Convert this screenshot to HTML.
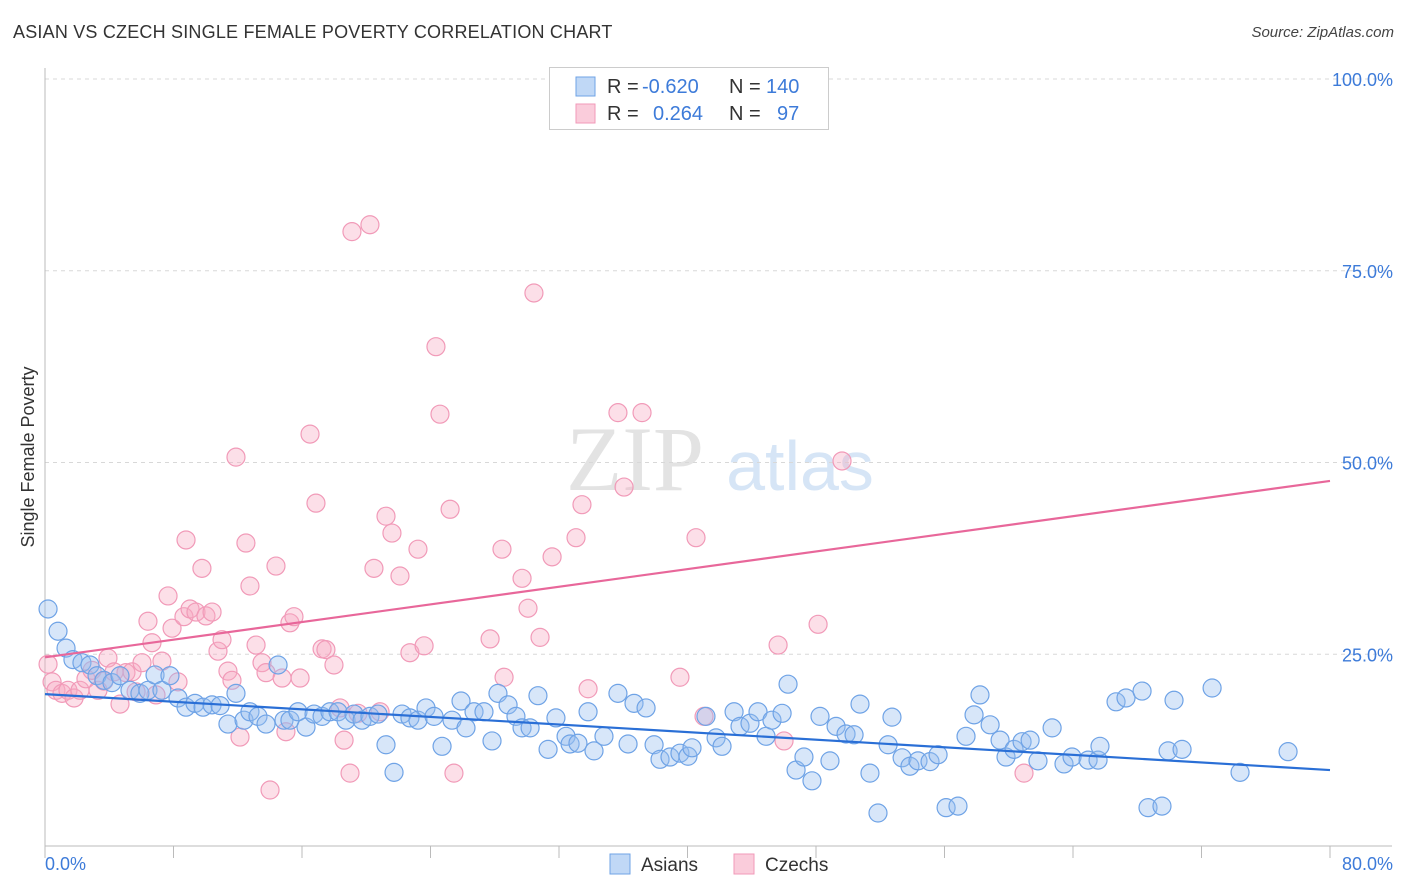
<!DOCTYPE html>
<html><head><meta charset="utf-8">
<style>
body{margin:0;background:#fff;font-family:"Liberation Sans",sans-serif;}
#wrap{position:relative;width:1406px;height:892px;overflow:hidden;}
.t{position:absolute;white-space:nowrap;}
</style></head><body>
<div id="wrap">
<div class="t" style="left:13px;top:22px;font-size:18px;color:#333;letter-spacing:0.2px">ASIAN VS CZECH SINGLE FEMALE POVERTY CORRELATION CHART</div>
<div class="t" style="right:12px;top:24px;font-size:15px;color:#444;font-style:italic">Source: ZipAtlas.com</div>
<svg id="svg" width="1406" height="892" style="position:absolute;left:0;top:0"></svg>
</div>
<script>
const asianX=[0.19,0.81,1.31,1.74,2.30,2.80,3.24,3.67,4.17,4.67,5.29,5.91,6.41,6.85,7.28,7.78,8.28,8.78,9.34,9.84,10.40,10.90,11.39,11.89,12.39,12.76,13.26,13.76,14.51,14.88,15.25,15.75,16.25,16.75,17.25,17.74,18.24,18.74,19.24,19.74,20.23,20.73,21.23,21.73,22.23,22.72,23.22,23.72,24.22,24.72,25.34,25.90,26.21,26.71,27.33,27.83,28.20,28.83,29.32,29.70,30.20,30.69,31.32,31.81,32.44,32.69,33.18,33.81,34.18,34.80,35.67,36.30,36.67,37.42,37.92,38.29,38.91,39.53,40.03,40.28,41.15,41.78,42.15,42.90,43.27,43.89,44.39,44.89,45.26,45.89,46.26,46.76,47.25,47.75,48.25,48.87,49.25,49.87,50.37,50.74,51.36,51.86,52.49,52.73,53.36,53.85,54.35,55.10,55.60,56.10,56.84,57.34,57.84,58.21,58.84,59.46,59.83,60.33,60.83,61.33,61.82,62.70,63.44,63.94,64.94,65.56,65.68,66.68,67.30,68.30,68.67,69.54,69.92,70.29,70.79,72.66,74.40,77.39];
const asianY=[30.9,28.0,25.8,24.3,23.9,23.6,22.2,21.6,21.3,22.2,20.3,19.9,20.3,22.3,20.3,22.2,19.3,18.1,18.6,18.1,18.4,18.3,15.9,19.9,16.4,17.5,16.9,15.9,23.6,16.4,16.4,17.5,15.5,17.2,16.9,17.5,17.5,16.4,17.2,16.4,16.9,17.2,13.2,9.6,17.2,16.7,16.4,18.0,16.9,13.0,16.4,18.9,15.4,17.5,17.5,13.7,19.9,18.4,16.9,15.4,15.4,19.6,12.6,16.7,14.3,13.3,13.4,17.5,12.4,14.3,19.9,13.3,18.6,18.0,13.2,11.3,11.6,12.1,11.7,12.8,16.9,14.1,13.0,17.5,15.6,16.0,17.5,14.3,16.4,17.3,21.1,9.9,11.6,8.5,16.9,11.1,15.6,14.6,14.5,18.5,9.5,4.3,13.2,16.8,11.5,10.4,11.1,11.0,11.9,5.0,5.2,14.3,17.1,19.7,15.8,13.8,11.6,12.6,13.6,13.8,11.1,15.4,10.7,11.6,11.2,11.2,13.0,18.8,19.3,20.2,5.0,5.2,12.4,19.0,12.6,20.6,9.6,12.3];
const czechX=[0.19,0.44,0.68,1.06,1.43,1.81,2.18,2.55,2.93,3.30,3.67,3.92,4.30,4.67,5.04,5.42,5.67,6.04,6.41,6.66,6.91,7.28,7.66,7.91,8.28,8.65,8.78,9.03,9.40,9.77,10.02,10.40,10.77,11.02,11.39,11.64,11.89,12.14,12.51,12.76,13.14,13.51,13.76,14.01,14.38,14.76,15.00,15.25,15.50,15.88,16.50,16.87,17.25,17.49,17.99,18.37,18.62,18.99,19.11,19.49,20.23,20.48,20.86,21.23,21.60,22.10,22.72,23.22,23.60,24.34,24.59,25.22,25.46,27.71,28.45,28.58,29.70,30.07,30.44,30.82,31.57,33.06,33.43,33.81,35.67,36.05,37.17,39.53,40.53,41.03,45.64,46.01,48.13,49.62,60.95];
const czechY=[23.7,21.4,20.3,19.9,20.3,19.3,20.3,21.8,22.9,20.3,21.5,24.5,22.7,18.5,22.6,22.7,20.1,23.9,29.3,26.5,19.7,24.1,32.6,28.4,21.4,29.9,39.9,30.9,30.5,36.2,30.0,30.5,25.4,26.9,22.8,21.6,50.7,14.2,39.5,33.9,26.2,23.9,22.6,7.3,36.5,21.9,14.9,29.1,29.9,21.9,53.7,44.7,25.7,25.6,23.6,18.0,13.8,9.5,80.1,17.3,81.0,36.2,17.5,43.0,40.8,35.2,25.2,38.7,26.1,65.1,56.3,43.9,9.5,27.0,38.7,22.0,34.9,31.0,72.1,27.2,37.7,40.2,44.5,20.5,56.5,46.8,56.5,22.0,40.2,16.9,26.2,13.7,28.9,50.2,9.5];
const asianTrend=[19.8,9.9];
const czechTrend=[24.6,47.6];
const xTickLabels=["0.0%","80.0%"];
const yTicks=[25,50,75,100];
const yTickLabels=["25.0%","50.0%","75.0%","100.0%"];

const X0=45,X1=1330,Y0=846,Y100=79;
const sx=v=>X0+(v/80)*(X1-X0);
const sy=v=>Y0-(v/100)*(Y0-Y100);
const svg=document.getElementById('svg');
const NS='http://www.w3.org/2000/svg';
function mk(tag,attrs,parent){const e=document.createElementNS(NS,tag);for(const k in attrs)e.setAttribute(k,attrs[k]);(parent||svg).appendChild(e);return e;}

let wm=mk('text',{x:635,y:490,'font-size':92,'font-family':'Liberation Serif,serif',fill:'#e3e3e3','text-anchor':'middle'});
wm.textContent='ZIP';


let wm2=mk('text',{x:800,y:490,'font-size':70,'font-family':'Liberation Sans,sans-serif',fill:'#d6e5f6','text-anchor':'middle'});
wm2.textContent='atlas';



yTicks.forEach((t,i)=>{
  const g=mk('line',{x1:X0,x2:1392,y1:sy(t),y2:sy(t),stroke:'#d8d8d8','stroke-dasharray':'4,4','stroke-width':1});
  
  
  const l=mk('text',{x:1393,y:sy(t)+7,'font-size':18,fill:'#3d7bd9','text-anchor':'end','font-family':'Liberation Sans,sans-serif'});
  l.textContent=yTickLabels[i];
  
  
});
let ya=mk('line',{x1:X0,x2:X0,y1:68,y2:Y0,stroke:'#bbb'});


let xa=mk('line',{x1:X0,x2:1392,y1:Y0,y2:Y0,stroke:'#bbb'});


for(let i=0;i<=10;i++){
  const tk=mk('line',{x1:sx(i*8),x2:sx(i*8),y1:Y0,y2:Y0+12,stroke:'#bbb'});
  
  
}
let xl0=mk('text',{x:45,y:870,'font-size':18,fill:'#3d7bd9','font-family':'Liberation Sans,sans-serif'});
xl0.textContent=xTickLabels[0];


let xl1=mk('text',{x:1393,y:870,'font-size':18,fill:'#3d7bd9','text-anchor':'end','font-family':'Liberation Sans,sans-serif'});
xl1.textContent=xTickLabels[1];


let yt=mk('text',{x:34,y:457,'font-size':18,fill:'#333','text-anchor':'middle',transform:'rotate(-90 34 457)','font-family':'Liberation Sans,sans-serif'});
yt.textContent='Single Female Poverty';



czechX.forEach((v,i)=>{
  const c=mk('circle',{cx:sx(v),cy:sy(czechY[i]),r:9,fill:'rgba(246,170,195,0.38)',stroke:'#f19ab8','stroke-width':1.2});
  
  
});
asianX.forEach((v,i)=>{
  const c=mk('circle',{cx:sx(v),cy:sy(asianY[i]),r:9,fill:'rgba(150,190,240,0.38)',stroke:'#6fa3e6','stroke-width':1.2});
  
  
});
let tb=mk('line',{x1:sx(0),x2:sx(80),y1:sy(asianTrend[0]),y2:sy(asianTrend[1]),stroke:'#2a6fd6','stroke-width':2.2});


let tp=mk('line',{x1:sx(0),x2:sx(80),y1:sy(czechTrend[0]),y2:sy(czechTrend[1]),stroke:'#e8679a','stroke-width':2.2});



let lb=mk('rect',{x:549.5,y:67.5,width:279,height:62,fill:'#fff',stroke:'#ccc'});


const rows=[["-0.620","140",'rgba(150,190,240,0.6)','#6fa3e6',86],["0.264"," 97",'rgba(246,170,195,0.6)','#f19ab8',113]];
rows.forEach(r=>{
  const s=mk('rect',{x:576,y:r[4]-9,width:19,height:19,fill:r[2],stroke:r[3]});
  
  
  const t=mk('text',{x:607,y:r[4]+7,'font-size':20,fill:'#333','font-family':'Liberation Sans,sans-serif'});
  t.innerHTML='R = <tspan fill="#3d7bd9" x="'+(r[0][0]=='-'?642:653)+'">'+r[0]+'</tspan><tspan x="729">N =</tspan><tspan fill="#3d7bd9" x="'+(r[1].trim().length==3?766:777)+'">'+r[1].trim()+'</tspan>';
  
  
});
[["Asians",610,'rgba(150,190,240,0.6)','#6fa3e6'],["Czechs",734,'rgba(246,170,195,0.6)','#f19ab8']].forEach(l=>{
  const s=mk('rect',{x:l[1],y:854,width:20,height:20,fill:l[2],stroke:l[3]});
  
  
  const t=mk('text',{x:l[1]+31,y:871,'font-size':19,fill:'#333','font-family':'Liberation Sans,sans-serif'});
  t.textContent=l[0];
  
  
});
</script>
</body></html>
